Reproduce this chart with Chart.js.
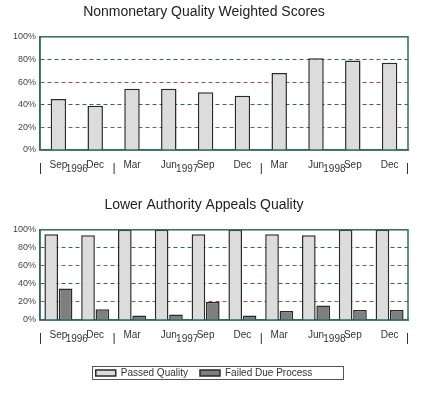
<!DOCTYPE html>
<html>
<head>
<script src="https://cdn.jsdelivr.net/npm/chart.js@4"></script>
<style>
  body { margin: 0; background: #fff; width: 436px; height: 400px; position: relative; }
  .box { position: absolute; left: 0; width: 436px; }
</style>
</head>
<body>
<div class="box" style="top:0;height:190px"><canvas id="top"></canvas></div>
<div class="box" style="top:193px;height:207px"><canvas id="bottom"></canvas></div>
<script>
const months = ["Sep", "Dec", "Mar", "Jun", "Sep", "Dec", "Mar", "Jun", "Sep", "Dec"];
const years = [{ label: "1996", from: 0, to: 1 }, { label: "1997", from: 2, to: 5 }, { label: "1998", from: 6, to: 9 }];
const weightedScores = [45, 39, 54, 54, 51, 48, 68, 81, 79, 77];
const passedQuality = [95, 94, 100, 100, 95, 100, 95, 94, 100, 100];
const failedDueProcess = [35, 12, 5, 6, 20, 5, 10, 16, 11, 11];

const FONT = "'Liberation Sans', Arial, sans-serif";
Chart.defaults.font.family = FONT;
Chart.defaults.color = "#333";
Chart.defaults.animation = false;

const gridColors = ["#2e6b66", "#a05060", "#2e6b66", "#a05060", "#2e6b66", "#333"];

// year row with separators under the month labels
const yearRow = {
  id: "yearRow",
  afterDraw(chart) {
    const { ctx, chartArea, scales } = chart;
    const x = scales.x;
    const half = (x.getPixelForValue(1) - x.getPixelForValue(0)) / 2;
    const y = chartArea.bottom + 19;
    ctx.save();
    ctx.font = "10px " + FONT;
    ctx.fillStyle = "#333";
    ctx.textAlign = "center";
    ctx.textBaseline = "middle";
    ctx.strokeStyle = "#333";
    ctx.lineWidth = 1;
    years.forEach((yr, i) => {
      const left = x.getPixelForValue(yr.from) - half;
      const right = x.getPixelForValue(yr.to) + half;
      ctx.fillText(yr.label, (left + right) / 2, y);
      ctx.beginPath();
      ctx.moveTo(left + 0.5, y - 6); ctx.lineTo(left + 0.5, y + 5);
      if (i === years.length - 1) { ctx.moveTo(right - 0.5, y - 6); ctx.lineTo(right - 0.5, y + 5); }
      ctx.stroke();
    });
    ctx.restore();
  }
};

const legendFrame = {
  id: "legendFrame",
  afterDraw(chart) {
    const boxes = chart.legend && chart.legend.legendHitBoxes;
    if (!boxes || !boxes.length) return;
    const ctx = chart.ctx;
    const l = boxes[0].left - 4, t = boxes[0].top - 2;
    const last = boxes[boxes.length - 1];
    ctx.save();
    ctx.strokeStyle = "#555";
    ctx.lineWidth = 1;
    ctx.strokeRect(Math.round(l) + 0.5, Math.round(t) + 0.5, Math.round(last.left + last.width + 30 - l), Math.round(last.height + 3));
    ctx.restore();
  }
};

function commonScales() {
  return {
    x: {
      afterFit(s) { s.height += 14; },
      grid: { display: false },
      border: { color: "#2e6b66", width: 1.5 },
      ticks: { autoSkip: false, maxRotation: 0, font: { size: 10 }, color: "#333", padding: 1 }
    },
    y: {
      min: 0, max: 100,
      afterFit(s) { s.width = 40; },
      border: { color: "#2e6b66", width: 1.5, dash: [4, 3] },
      grid: {
        color: ctx => gridColors[ctx.index] || "#333",
        lineWidth: ctx => (ctx.index === 0 || ctx.index === 5) ? 0 : 1,
        drawTicks: false
      },
      ticks: { stepSize: 20, font: { size: 9 }, color: "#444", padding: 4, callback: v => v + "%" }
    }
  };
}

function frame(chart) {
  const { ctx, chartArea: a } = chart;
  ctx.save();
  ctx.strokeStyle = "#2e6b66";
  ctx.lineWidth = 1.5;
  ctx.strokeRect(a.left, a.top, a.right - a.left, a.bottom - a.top);
  ctx.restore();
}

new Chart(document.getElementById("top"), {
  type: "bar",
  data: {
    labels: months,
    datasets: [{
      data: weightedScores,
      backgroundColor: "#dcdcdc",
      borderColor: "#2a2a2a",
      borderWidth: 1.5,
      barPercentage: 0.42,
      categoryPercentage: 1
    }]
  },
  options: {
    responsive: true, maintainAspectRatio: false,
    layout: { padding: { left: 0, right: 28, top: 0, bottom: 4 } },
    plugins: {
      legend: { display: false },
      tooltip: { enabled: false },
      title: { display: true, text: "Nonmonetary Quality Weighted Scores", font: { size: 14, weight: "normal" }, color: "#222", padding: { top: 4, bottom: 16 } }
    },
    scales: commonScales()
  },
  plugins: [yearRow, { id: "f1", afterDatasetsDraw: frame }]
});

new Chart(document.getElementById("bottom"), {
  type: "bar",
  data: {
    labels: months,
    datasets: [{
      label: "Passed Quality",
      data: passedQuality,
      backgroundColor: "#dcdcdc",
      borderColor: "#2a2a2a",
      borderWidth: 1.5,
      barPercentage: 0.95,
      categoryPercentage: 0.78
    }, {
      label: "Failed Due Process",
      data: failedDueProcess,
      backgroundColor: "#7f7f7f",
      borderColor: "#2a2a2a",
      borderWidth: 1.5,
      barPercentage: 0.95,
      categoryPercentage: 0.78
    }]
  },
  options: {
    responsive: true, maintainAspectRatio: false,
    layout: { padding: { left: 0, right: 28, top: 0, bottom: 12 } },
    plugins: {
      tooltip: { enabled: false },
      title: { display: true, text: "Lower Authority Appeals Quality", font: { size: 14, weight: "normal" }, color: "#222", padding: { top: 4, bottom: 16 } },
      legend: {
        position: "bottom",
        labels: { boxWidth: 20, boxHeight: 6, font: { size: 10 }, color: "#333", padding: 12 }
      }
    },
    scales: commonScales()
  },
  plugins: [yearRow, legendFrame, { id: "f2", afterDatasetsDraw: frame }]
});
</script>
</body>
</html>
